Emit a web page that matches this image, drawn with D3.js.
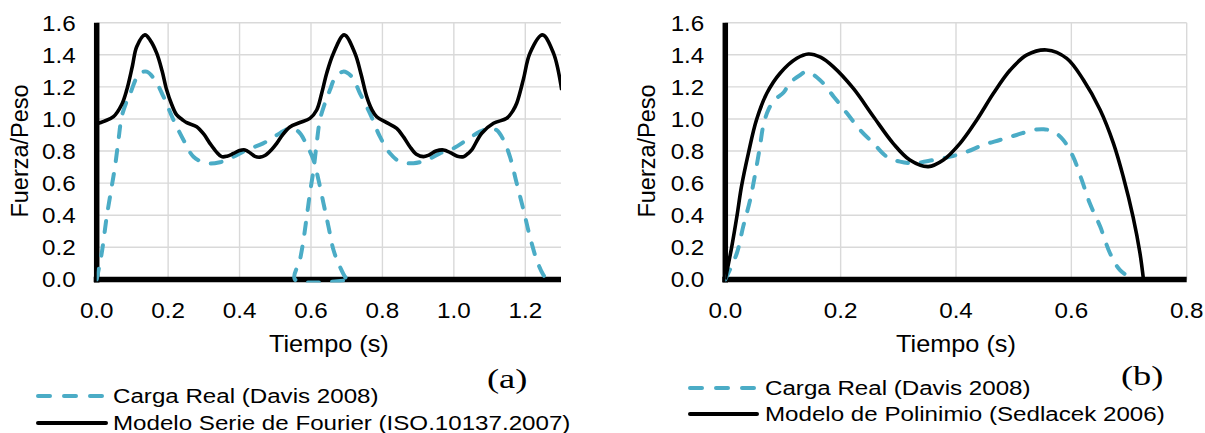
<!DOCTYPE html>
<html>
<head>
<meta charset="utf-8">
<script src="https://cdn.jsdelivr.net/npm/d3@7"></script>
<style>
  html, body { margin: 0; padding: 0; background: #fff; }
  svg { display: block; }
</style>
</head>
<body>
<svg id="chart" width="1205" height="433"></svg>
<script>
// ---------------- DATA ----------------
const yTicks = [0, 0.2, 0.4, 0.6, 0.8, 1.0, 1.2, 1.4, 1.6];
const xTicksA = [0, 0.2, 0.4, 0.6, 0.8, 1.0, 1.2];
const xTicksB = [0, 0.2, 0.4, 0.6, 0.8];

const seriesNameCarga = "Carga Real (Davis 2008)";
const seriesNameFourier = "Modelo Serie de Fourier (ISO.10137.2007)";
const seriesNamePoly = "Modelo de Polinimio (Sedlacek 2006)";
const yTitle = "Fuerza/Peso";
const xTitle = "Tiempo (s)";

// Panel (a): measured load (two footsteps, one series)
const cargaA_t = [0.000,0.014,0.028,0.042,0.051,0.061,0.070,0.084,0.095,0.110,0.121,0.140,0.163,0.187,0.215,0.243,0.271,0.308,0.345,0.383,0.420,0.466,0.513,0.541,0.565,0.588,0.607,0.621,0.635,0.649,0.663,0.681,0.700,0.710,
  0.555,0.569,0.579,0.588,0.597,0.607,0.616,0.625,0.639,0.653,0.667,0.690,0.714,0.737,0.765,0.793,0.821,0.849,0.887,0.924,0.961,0.999,1.036,1.073,1.101,1.120,1.139,1.157,1.176,1.195,1.213,1.232,1.250,1.260];
const cargaA_v = [0.000,0.163,0.390,0.578,0.700,0.869,1.014,1.110,1.165,1.250,1.285,1.295,1.243,1.139,0.994,0.869,0.765,0.724,0.730,0.765,0.807,0.848,0.911,0.942,0.921,0.838,0.744,0.620,0.474,0.329,0.183,0.079,0.005,0.000,
  0.000,0.121,0.246,0.390,0.537,0.682,0.848,0.994,1.098,1.180,1.254,1.295,1.264,1.160,1.035,0.890,0.786,0.734,0.724,0.744,0.786,0.817,0.869,0.921,0.942,0.930,0.869,0.765,0.599,0.433,0.266,0.121,0.030,0.000];

// Panel (a): Fourier series model
const fourier_t = [0.000,0.020,0.047,0.070,0.084,0.100,0.112,0.135,0.150,0.168,0.183,0.196,0.210,0.224,0.240,0.252,0.280,0.300,0.317,0.335,0.350,0.365,0.383,0.400,0.415,0.430,0.443,0.457,0.471,0.490,0.504,0.520,0.541,0.569,0.597,0.616,0.630,0.644,0.663,0.693,0.723,0.740,0.756,0.770,0.784,0.812,0.840,0.860,0.877,0.895,0.915,0.930,0.950,0.971,0.990,1.010,1.027,1.040,1.050,1.078,1.111,1.148,1.165,1.176,1.195,1.213,1.248,1.279,1.302];
const fourier_v = [0.970,0.985,1.014,1.090,1.180,1.330,1.450,1.524,1.490,1.410,1.300,1.180,1.090,1.025,0.995,0.977,0.952,0.905,0.848,0.795,0.765,0.768,0.785,0.803,0.807,0.788,0.767,0.762,0.772,0.810,0.848,0.900,0.950,0.978,1.004,1.056,1.160,1.285,1.410,1.524,1.410,1.280,1.139,1.060,1.014,0.977,0.942,0.885,0.827,0.780,0.765,0.775,0.800,0.807,0.790,0.768,0.765,0.785,0.807,0.911,0.973,1.004,1.050,1.098,1.250,1.410,1.524,1.410,1.180];

// Panel (b): measured load (one footstep)
const cargaB_t = [0.000,0.020,0.031,0.043,0.052,0.060,0.066,0.075,0.086,0.101,0.112,0.130,0.141,0.164,0.188,0.211,0.234,0.257,0.280,0.303,0.326,0.361,0.390,0.419,0.447,0.476,0.505,0.534,0.552,0.569,0.586,0.603,0.618,0.632,0.650,0.667,0.684,0.707];
const cargaB_v = [0.000,0.163,0.329,0.495,0.661,0.827,0.960,1.060,1.120,1.165,1.225,1.274,1.295,1.243,1.139,1.035,0.931,0.848,0.765,0.734,0.724,0.744,0.765,0.796,0.838,0.869,0.900,0.931,0.936,0.921,0.869,0.765,0.620,0.474,0.329,0.163,0.059,0.000];

// Panel (b): polynomial model
const poly_t = [0.000,0.011,0.020,0.028,0.040,0.054,0.072,0.095,0.124,0.144,0.165,0.187,0.222,0.257,0.291,0.320,0.352,0.378,0.407,0.436,0.465,0.494,0.523,0.557,0.592,0.621,0.650,0.673,0.690,0.707,0.719,0.725];
const poly_v = [0.000,0.200,0.390,0.578,0.786,0.994,1.160,1.285,1.378,1.405,1.385,1.326,1.190,1.014,0.848,0.744,0.703,0.744,0.848,0.994,1.160,1.305,1.399,1.430,1.378,1.243,1.056,0.848,0.640,0.390,0.163,0.000];

// ---------------- STYLE ----------------
const BLUE = "#4BACC6";
const GRID = "#d9d9d9";
const SANS = "'Liberation Sans', Arial, sans-serif";
const SERIF = "'Liberation Serif', 'Times New Roman', serif";
const SX = 1.1; // horizontal text stretch seen in the reference

const svg = d3.select("#chart");

function txt(g, x, y, s, size, anchor, family, sx) {
  return g.append("text")
    .attr("transform", `translate(${x},${y}) scale(${sx || SX},1)`)
    .attr("text-anchor", anchor || "start")
    .style("font-family", family || SANS)
    .style("font-size", size + "px")
    .style("font-weight", "normal")
    .attr("fill", "#000")
    .text(s);
}

const yScale = d3.scaleLinear().domain([0, 1.6]).range([279.4, 22.7]);

function panel(opts) {
  const g = svg.append("g");
  const x = d3.scaleLinear().domain(opts.xDomain).range(opts.xRange);
  const [x0, x1] = opts.xRange;
  const yTop = yScale(1.6), yBot = yScale(0);

  // grid
  g.selectAll(".hg").data(yTicks).join("line")
    .attr("x1", x0).attr("x2", x1)
    .attr("y1", d => yScale(d)).attr("y2", d => yScale(d))
    .attr("stroke", GRID).attr("stroke-width", 1.4);
  g.selectAll(".vg").data(opts.xTicks).join("line")
    .attr("x1", d => x(d)).attr("x2", d => x(d))
    .attr("y1", yTop).attr("y2", yBot)
    .attr("stroke", GRID).attr("stroke-width", 1.4);

  // axes (drawn under the series)
  g.append("line").attr("x1", x0).attr("x2", x0).attr("y1", yTop).attr("y2", yBot + 3)
    .attr("stroke", "#000").attr("stroke-width", 5.5);
  g.append("line").attr("x1", x0 - 3).attr("x2", x1).attr("y1", yBot).attr("y2", yBot)
    .attr("stroke", "#000").attr("stroke-width", 5.5);

  // clip
  const cid = "clip" + opts.id;
  svg.append("clipPath").attr("id", cid).append("rect")
    .attr("x", x0).attr("y", yTop - 10).attr("width", x1 - x0).attr("height", yBot - yTop + 13);

  const line = d3.line().x(d => x(d[0])).y(d => yScale(d[1])).curve(d3.curveCatmullRom.alpha(0.5));

  // measured load (dashed)
  g.append("path").attr("clip-path", `url(#${cid})`)
    .attr("d", line(d3.zip(opts.cargaT, opts.cargaV)))
    .attr("fill", "none").attr("stroke", BLUE).attr("stroke-width", 4)
    .attr("stroke-dasharray", "11,13").attr("stroke-linecap", "round");
  // model (solid)
  g.append("path").attr("clip-path", `url(#${cid})`)
    .attr("d", line(d3.zip(opts.modelT, opts.modelV)))
    .attr("fill", "none").attr("stroke", "#000").attr("stroke-width", 3.6)
    .attr("stroke-linejoin", "round");

  // tick labels
  yTicks.forEach(d => txt(g, x0 - 21, yScale(d) + 8, d3.format(".1f")(d), 22, "end"));
  opts.xTicks.forEach(d => txt(g, x(d), 317.5, d3.format(".1f")(d), 22, "middle"));

  // axis titles
  txt(g, (x0 + x1) / 2, 351.5, xTitle, 23, "middle");
  g.append("text")
    .attr("transform", `translate(${opts.yTitleX},151) rotate(-90)`)
    .attr("text-anchor", "middle")
    .style("font-family", SANS).style("font-size", "23.5px")
    .text(yTitle);

  // panel letter
  txt(g, opts.letterX, opts.letterY, opts.letter, 28, "start", SERIF, 1.3);

  // legend
  const L = opts.legend;
  g.append("line").attr("x1", L.x0).attr("x2", L.x1).attr("y1", L.y1).attr("y2", L.y1)
    .attr("stroke", BLUE).attr("stroke-width", 4)
    .attr("stroke-dasharray", "12,14").attr("stroke-linecap", "round");
  txt(g, L.tx, L.y1 + 6.5, seriesNameCarga, 21, "start", SANS, 1.15);
  g.append("line").attr("x1", L.x0).attr("x2", L.x1).attr("y1", L.y2).attr("y2", L.y2)
    .attr("stroke", "#000").attr("stroke-width", 4).attr("stroke-linecap", "round");
  txt(g, L.tx, L.y2 + 6.5, opts.modelName, 21, "start", SANS, 1.15);
}

panel({
  id: "A", xDomain: [0, 1.3], xRange: [96.7, 561], xTicks: xTicksA,
  cargaT: cargaA_t, cargaV: cargaA_v, modelT: fourier_t, modelV: fourier_v,
  modelName: seriesNameFourier, yTitleX: 28, letter: "(a)", letterX: 487, letterY: 388,
  legend: { x0: 38, x1: 106, tx: 113, y1: 396, y2: 423 }
});
panel({
  id: "B", xDomain: [0, 0.8], xRange: [725.3, 1186.7], xTicks: xTicksB,
  cargaT: cargaB_t, cargaV: cargaB_v, modelT: poly_t, modelV: poly_v,
  modelName: seriesNamePoly, yTitleX: 655, letter: "(b)", letterX: 1121, letterY: 385,
  legend: { x0: 690, x1: 757, tx: 765, y1: 388, y2: 414 }
});
</script>
</body>
</html>
